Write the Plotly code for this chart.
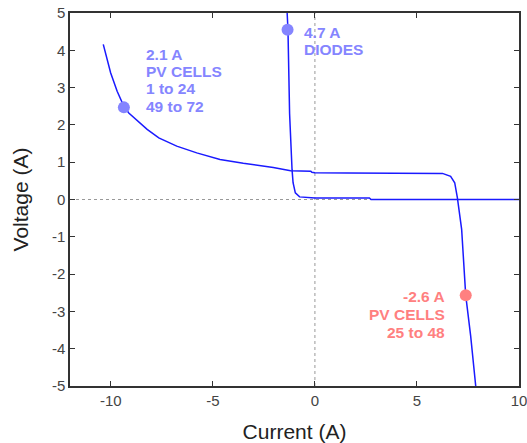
import plotly.graph_objects as go

# PV cells curve
pv_x = [-10.37, -10.01, -9.69, -9.36, -9.12, -8.22, -7.65, -6.77, -5.79, -4.65, -3.51, -2.04,
        -1.19, -0.2, -0.15, 0.0, 1.58, 3.0, 5.0, 6.25, 6.65, 6.85, 6.98, 7.11, 7.19, 7.39, 7.63, 7.88]
pv_y = [4.16, 3.40, 2.90, 2.50, 2.32, 1.88, 1.65, 1.43, 1.25, 1.07, 0.97, 0.86,
        0.77, 0.76, 0.73, 0.72, 0.71, 0.71, 0.70, 0.70, 0.62, 0.45, 0.05, -0.45, -0.80, -2.57, -3.65, -5.0]

# Diode curve
diode_x = [-1.36, -1.32, -1.24, -1.18, -1.12, -1.07, -0.96, -0.75, 0.0, 2.67, 2.75, 10.0]
diode_y = [5.0, 4.55, 2.3, 1.34, 0.80, 0.45, 0.18, 0.07, 0.04, 0.04, 0.0, 0.0]

# Marked points
blue_pts_x = [-9.36, -1.34]
blue_pts_y = [2.47, 4.55]
red_pts_x = [7.39]
red_pts_y = [-2.57]

# Label texts (one entry per line) and their anchor values
pv1_lines = ["2.1 A", "PV CELLS", "1 to 24", "49 to 72"]
pv1_x = -8.38
pv1_y = [3.90, 3.44, 2.97, 2.49]
diode_lines = ["4.7 A", "DIODES"]
diode_lbl_x = -0.62
diode_lbl_y = [4.48, 4.01]
pv2_lines = ["-2.6 A", "PV CELLS", "25 to 48"]
pv2_x = 6.49
pv2_y = [-2.61, -3.08, -3.56]

x_ticks = [-10, -5, 0, 5, 10]
x_tick_text = ["-10", "-5", "0", "5", "10"]
y_ticks = [-5, -4, -3, -2, -1, 0, 1, 2, 3, 4, 5]
y_tick_text = ["-5", "-4", "-3", "-2", "-1", "0", "1", "2", "3", "4", "5"]

FONT = "Liberation Sans, Arial, sans-serif"
blue_lbl = "#8585ff"
red_lbl = "#ff8080"
line_col = "#1a1aff"

fig = go.Figure()
fig.add_trace(go.Scatter(x=pv_x, y=pv_y, mode="lines",
                         line=dict(color=line_col, width=1.5), showlegend=False))
fig.add_trace(go.Scatter(x=diode_x, y=diode_y, mode="lines",
                         line=dict(color=line_col, width=1.5), showlegend=False))
fig.add_trace(go.Scatter(x=blue_pts_x, y=blue_pts_y, mode="markers",
                         marker=dict(color=blue_lbl, size=12), showlegend=False, cliponaxis=False))
fig.add_trace(go.Scatter(x=red_pts_x, y=red_pts_y, mode="markers",
                         marker=dict(color=red_lbl, size=12), showlegend=False, cliponaxis=False))

# dotted zero lines
fig.add_shape(type="line", x0=0, x1=0, y0=-5, y1=5, xref="x", yref="y",
              line=dict(color="#999999", width=1, dash="dot"), layer="below")
fig.add_shape(type="line", x0=-12, x1=10, y0=0, y1=0, xref="x", yref="y",
              line=dict(color="#999999", width=1, dash="dot"), layer="below")

for txt, yy in zip(pv1_lines, pv1_y):
    fig.add_annotation(x=pv1_x, y=yy, text="<b>" + txt + "</b>", showarrow=False,
                       xanchor="left", yanchor="middle",
                       font=dict(family=FONT, size=15.5, color=blue_lbl))
for txt, yy in zip(diode_lines, diode_lbl_y):
    fig.add_annotation(x=diode_lbl_x, y=yy, text="<b>" + txt + "</b>", showarrow=False,
                       xanchor="left", yanchor="middle",
                       font=dict(family=FONT, size=15.5, color=blue_lbl))
for txt, yy in zip(pv2_lines, pv2_y):
    fig.add_annotation(x=pv2_x, y=yy, text="<b>" + txt + "</b>", showarrow=False,
                       xanchor="right", yanchor="middle",
                       font=dict(family=FONT, size=15.5, color=red_lbl))

axis_common = dict(showline=True, linecolor="#333333", linewidth=1.5, mirror="allticks",
                   ticks="inside", ticklen=5, tickcolor="#333333", tickwidth=1,
                   showgrid=False, zeroline=False, automargin=False,
                   ticklabeloverflow="allow",
                   tickfont=dict(family=FONT, size=15, color="#444444"))

fig.update_layout(
    width=527, height=443,
    margin=dict(l=70, r=8, t=13, b=57),
    paper_bgcolor="white", plot_bgcolor="white",
    xaxis=dict(range=[-12, 10], tickvals=x_ticks, ticktext=x_tick_text, **axis_common,
               title=dict(text="Current (A)", standoff=19,
                          font=dict(family=FONT, size=21, color="#222222"))),
    yaxis=dict(range=[-5, 5], tickvals=y_ticks, ticktext=y_tick_text, **axis_common,
               title=dict(text="Voltage (A)", standoff=18,
                          font=dict(family=FONT, size=21, color="#222222"))),
)

# remove the browser's default 8px body margin so the figure fills the window
fig.write_html("out.html", config={"displayModeBar": False},
               post_script="document.body.style.margin='0';")
